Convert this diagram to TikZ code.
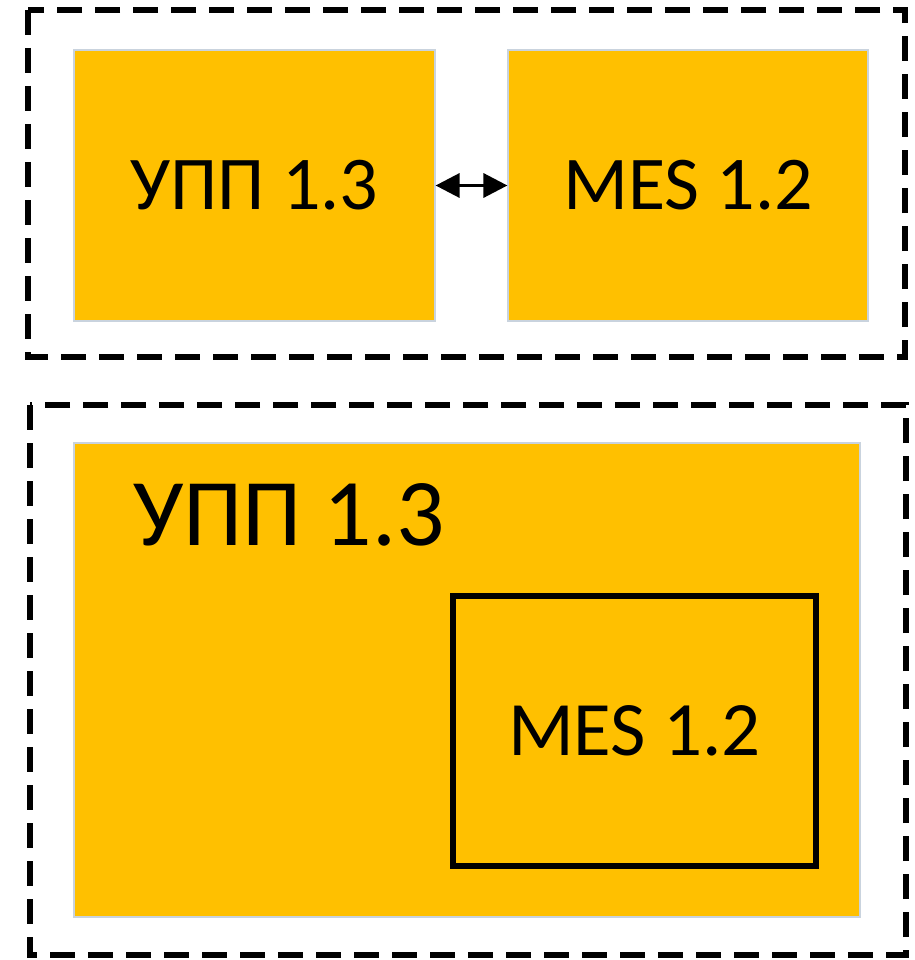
\documentclass[tikz,border=0pt]{standalone}
\usepackage{fontspec}
\setmainfont{Carlito}
\usetikzlibrary{arrows.meta}
\tikzset{
  goldbox/.style={fill=gold, draw=edge, line width=1.2pt, inner sep=0pt},
  groupbox/.style={line width=6pt, dash pattern=on 25pt off 13pt},
  boxtext/.style={font=\fontsize{76}{84}\selectfont}
}
\definecolor{gold}{HTML}{FFC000}
\definecolor{edge}{HTML}{C9D3DE}

\begin{document}
\begin{tikzpicture}[x=1pt,y=-1pt]
        \useasboundingbox (0,0) rectangle (914,960);
        % Grupos
        \draw[groupbox] (28,10) rectangle (905,357);
        \draw[groupbox] (30,405) rectangle (906,955);
        % Arriba
        \node[goldbox, minimum width=361pt, minimum height=271pt, boxtext] (upp) at (254.5,185.5) {УПП 1.3};
        \node[goldbox, minimum width=360pt, minimum height=271pt, boxtext] (mes) at (688,185.5) {MES 1.2};
        \draw[line width=3.5pt, {Triangle[length=24pt,width=24pt]}-{Triangle[length=24pt,width=24pt]}] (upp.east) -- (mes.west);
        % Abajo
        \node[goldbox, minimum width=786pt, minimum height=474pt] (uppbig) at (467,680) {};
        \node[anchor=base west, inner sep=0pt, font=\fontsize{95.5}{100}\selectfont] (upptext) at (133,545) {УПП 1.3};
        \node[fill=gold, draw=black, line width=6pt, minimum width=363pt, minimum height=270pt, font=\fontsize{77}{86}\selectfont] (mesin) at (634.5,731) {MES 1.2};
\end{tikzpicture}
\end{document}
